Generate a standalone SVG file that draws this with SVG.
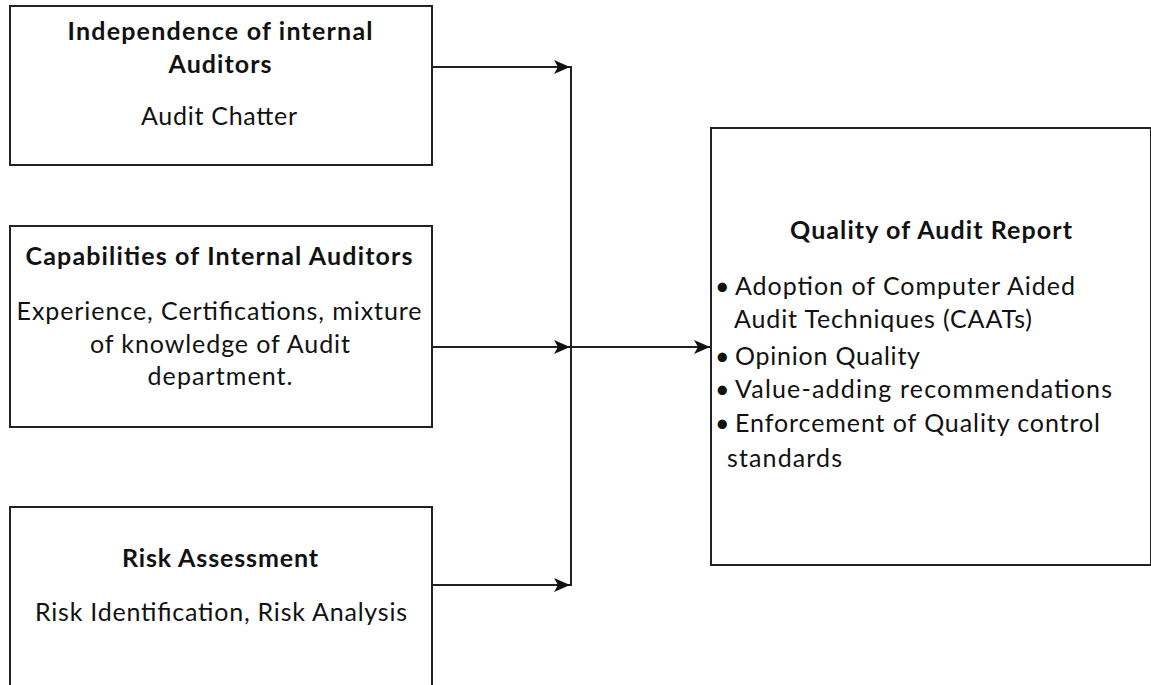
<svg xmlns="http://www.w3.org/2000/svg" width="1151" height="685" viewBox="0 0 1151 685">
  <style>
    .box { fill: #ffffff; stroke: #222222; stroke-width: 2; }
    .wire { fill: none; stroke: #222222; stroke-width: 2; }
    text { font-family: Lato, "Open Sans", sans-serif; fill: #111111; font-size: 25px; }
    .title { font-weight: bold; text-anchor: middle; }
    .body { text-anchor: middle; }
    .item { text-anchor: start; }
  </style>
  <defs>
    <marker id="arrow" viewBox="0 0 16 14" refX="16" refY="7" markerWidth="16" markerHeight="14" markerUnits="userSpaceOnUse" orient="auto">
      <path d="M0,0 L16,7 L0,14 L4,7 Z" fill="#111111"/>
    </marker>
  </defs>
  <rect width="1151" height="685" fill="#ffffff"/>

  <!-- connectors: three inputs merge on a bus, one output to the report box -->
  <g id="connectors">
    <line class="wire" x1="432" y1="67" x2="570" y2="67" marker-end="url(#arrow)"/>
    <line class="wire" x1="432" y1="347" x2="570" y2="347" marker-end="url(#arrow)"/>
    <line class="wire" x1="432" y1="585" x2="570" y2="585" marker-end="url(#arrow)"/>
    <line class="wire" x1="571" y1="66" x2="571" y2="586"/>
    <line class="wire" x1="571" y1="347" x2="710" y2="347" marker-end="url(#arrow)"/>
  </g>

  <g id="independence">
    <rect class="box" x="10" y="6" width="422" height="159"/>
    <text class="title" x="220" y="40" textLength="305">Independence of internal</text>
    <text class="title" x="220" y="73" textLength="103">Auditors</text>
    <text class="body" x="219" y="125" textLength="156">Audit Chatter</text>
  </g>

  <g id="capabilities">
    <rect class="box" x="10" y="226" width="422" height="201"/>
    <text class="title" x="219" y="265" textLength="387">Capabilities of Internal Auditors</text>
    <text class="body" x="219" y="320" textLength="405">Experience, Certifications, mixture</text>
    <text class="body" x="220" y="353" textLength="260">of knowledge of Audit</text>
    <text class="body" x="220" y="385" textLength="145">department.</text>
  </g>

  <g id="risk">
    <rect class="box" x="10" y="507" width="422" height="190"/>
    <text class="title" x="220" y="567" textLength="196">Risk Assessment</text>
    <text class="body" x="221" y="621" textLength="372">Risk Identification, Risk Analysis</text>
  </g>

  <g id="quality">
    <rect class="box" x="711" y="128" width="440" height="437"/>
    <text class="title" x="931" y="239" textLength="282">Quality of Audit Report</text>
    <text class="item" x="715" y="295">•</text>
    <text class="item" x="735" y="295" textLength="340">Adoption of Computer Aided</text>
    <text class="item" x="734" y="328" textLength="298">Audit Techniques (CAATs)</text>
    <text class="item" x="715" y="365">•</text>
    <text class="item" x="735" y="365" textLength="185">Opinion Quality</text>
    <text class="item" x="715" y="398">•</text>
    <text class="item" x="735" y="398" textLength="377">Value-adding recommendations</text>
    <text class="item" x="715" y="432">•</text>
    <text class="item" x="735" y="432" textLength="365">Enforcement of Quality control</text>
    <text class="item" x="727" y="467" textLength="115">standards</text>
  </g>
</svg>
